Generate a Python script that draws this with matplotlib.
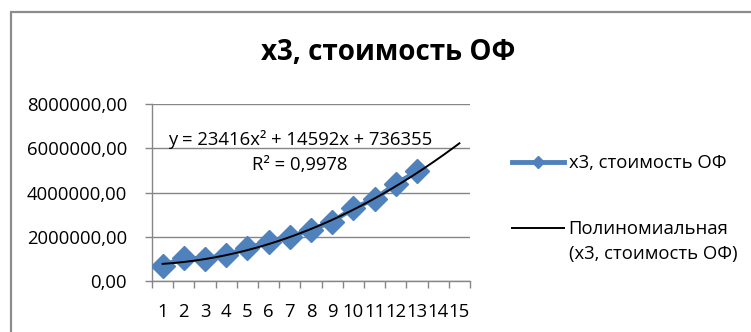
import numpy as np
import matplotlib
matplotlib.use("Agg")
import matplotlib.pyplot as plt
from matplotlib.lines import Line2D
from matplotlib.patches import Rectangle
from matplotlib.ticker import FuncFormatter, FixedLocator
from matplotlib.legend_handler import HandlerLine2D

plt.rcParams['font.family'] = ['Open Sans', 'DejaVu Sans']

# data
periods = np.arange(1, 14)
cost = [690000, 1030000, 1010000, 1180000, 1480000, 1780000, 2000000,
        2310000, 2680000, 3290000, 3700000, 4390000, 4950000]
categories = [str(i) for i in range(1, 16)]
trend_coef = [23416, 14592, 736355]  # from the trendline equation
r2 = "0,9978"

series_name = "x3, стоимость ОФ"
trend_name = "Полиномиальная\n(x3, стоимость ОФ)"

blue = '#4F81BD'
grey = '#868686'
fs = 13.3

fig = plt.figure(figsize=(7.51, 3.32), dpi=100)
ax = fig.add_axes([152/751, 1 - 281/332, (470 - 152)/751, (281 - 104)/332])

# outer chart frame
fig.patches.append(Rectangle((11/751, -0.1), 1.2, 1 - 12/332 + 0.1, transform=fig.transFigure,
                             fill=False, edgecolor='#8c8c8c', linewidth=1.6))

ax.plot(periods, cost, color=blue, lw=3.5, marker='D', ms=12, mfc=blue, mec=blue, zorder=3)

xt = np.linspace(1, 15, 200)
ax.plot(xt, np.polyval(trend_coef, xt), color='black', lw=1.4, zorder=4)

ax.set_xlim(0.5, 15.5)
ax.set_ylim(0, 8000000)
ax.set_yticks([0, 2000000, 4000000, 6000000, 8000000])
ax.yaxis.set_major_formatter(FuncFormatter(lambda v, p: f"{v:.2f}".replace('.', ',')))
ax.xaxis.set_major_locator(FixedLocator(np.arange(0.5, 16, 1)))
ax.xaxis.set_major_formatter(FuncFormatter(lambda v, p: ''))
ax.xaxis.set_minor_locator(FixedLocator(np.arange(1, 16)))
ax.set_xticklabels(categories, minor=True)
ax.tick_params(axis='x', which='minor', length=0, pad=16, labelsize=fs)
ax.tick_params(axis='x', which='major', length=5, color=grey, width=1)
ax.tick_params(axis='y', length=5, color=grey, width=1, labelsize=fs, pad=13)

ax.grid(axis='y', color=grey, lw=1)
ax.set_axisbelow(True)
for s in ['top', 'right']:
    ax.spines[s].set_visible(False)
for s in ['left', 'bottom']:
    ax.spines[s].set_color(grey)
    ax.spines[s].set_linewidth(1)

ax.text(0.465, 0.80, "y = 23416x² + 14592x + 736355", transform=ax.transAxes,
        ha='center', va='center', fontsize=fs)
ax.text(0.465, 0.655, "R² = " + r2, transform=ax.transAxes,
        ha='center', va='center', fontsize=fs)

fig.text(388/751, 1 - 52/332, series_name, ha='center', va='center',
         fontsize=20, fontweight='bold')


# put the trendline handle level with the first line of its two-line label
class FirstLineHandler(HandlerLine2D):
    def create_artists(self, legend, orig_handle, xdescent, ydescent, width, height, fontsize, trans):
        return super().create_artists(legend, orig_handle, xdescent, ydescent - 1.5 * fontsize,
                                      width, height, fontsize, trans)


h1 = Line2D([], [], color=blue, lw=3.5, marker='D', ms=6, mfc=blue, mec=blue)
h2 = Line2D([], [], color='black', lw=1.4)
leg = fig.legend([h1, h2], [series_name, trend_name], loc='upper left',
                 bbox_to_anchor=(503/751, 1 - 145/332), frameon=False, fontsize=fs,
                 borderpad=0, handlelength=2.8, handletextpad=0.25, labelspacing=2.6,
                 handler_map={h2: FirstLineHandler()})
leg.get_texts()[1].set_linespacing(1.5)

fig.savefig('out.png', dpi=100)
